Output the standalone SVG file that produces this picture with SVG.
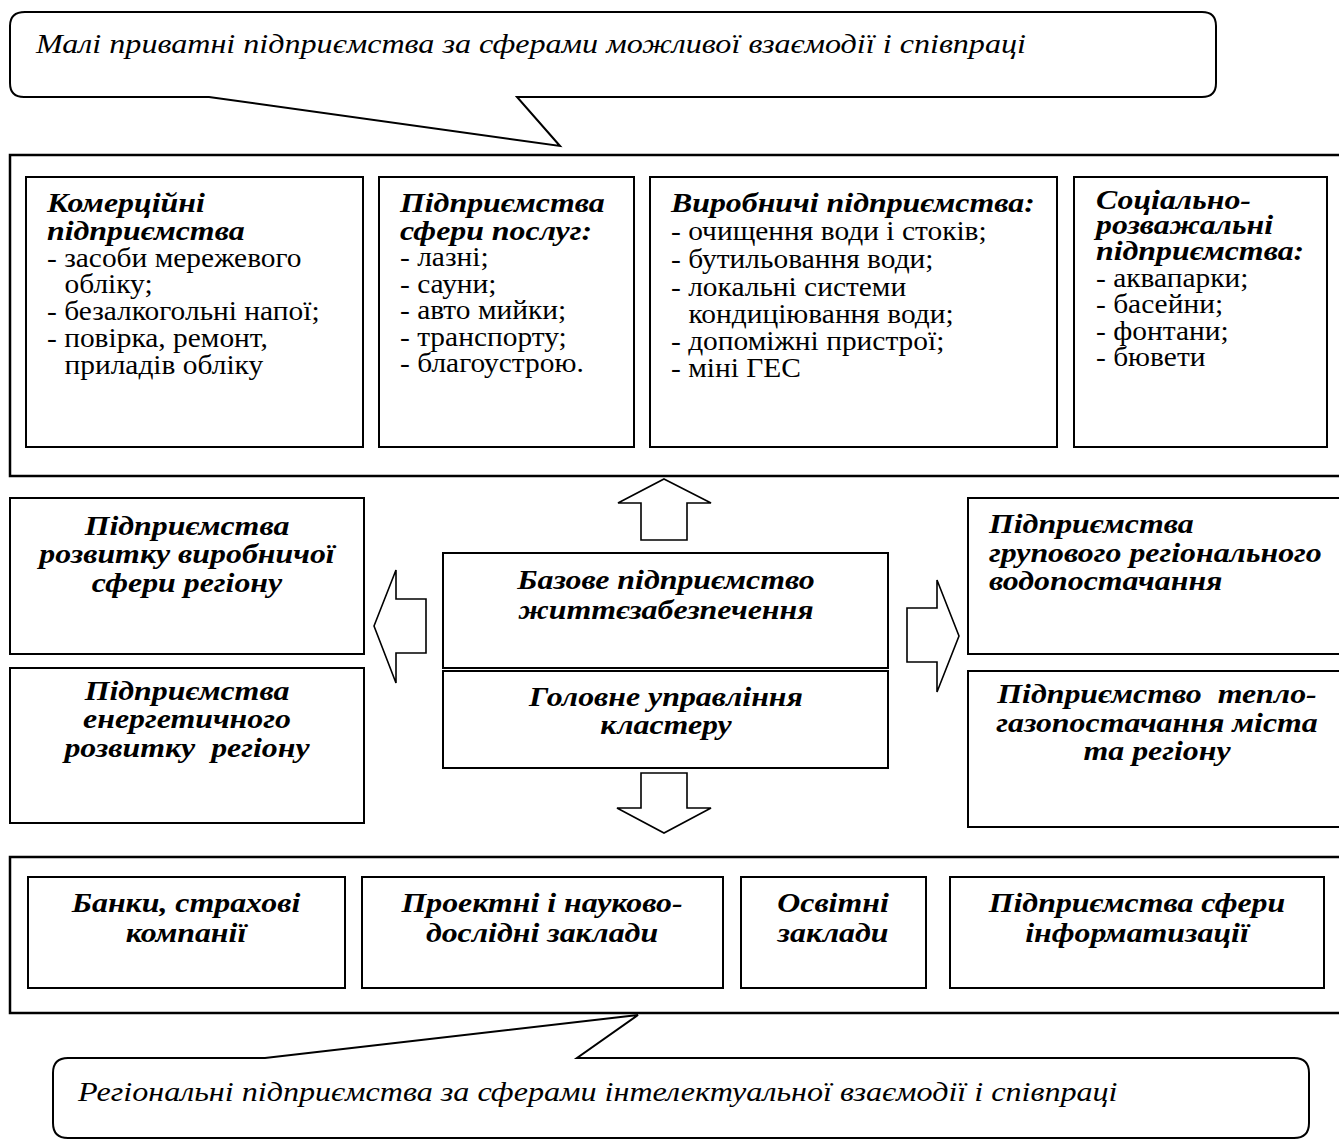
<svg xmlns="http://www.w3.org/2000/svg" width="1339" height="1140" viewBox="0 0 1339 1140">
<style>
.bx{fill:#fff;stroke:#000;stroke-width:2}
.ob{fill:none;stroke:#000;stroke-width:2.5}
.co{fill:#fff;stroke:#000;stroke-width:2}
.ar{fill:#fff;stroke:#000;stroke-width:1.6;stroke-linejoin:miter}
text{font-family:"Liberation Serif","Times New Roman",serif;fill:#000}
.t{font-size:27px}
.h{font-size:27px;font-weight:bold;font-style:italic}
.m{font-size:27px;font-weight:bold;font-style:italic}
.c{text-anchor:middle}
.ci{font-size:27px;font-style:italic}
</style>
<rect width="1339" height="1140" fill="#fff"/>

<g id="callout-top">
<path class="co" d="M25,12 H1202 Q1216,12 1216,26 V83 Q1216,97 1202,97 H517 L560,146 L209,97 H24 Q10,97 10,83 V26 Q10,12 25,12 Z"/>
<g transform="translate(36,0) scale(1.19,1)"><text class="ci" x="0" y="53">Малі приватні підприємства за сферами можливої взаємодії і співпраці</text></g>
</g>

<g id="group-top">
<rect class="ob" x="10" y="155" width="1345" height="321"/>
</g>
<g id="box-commercial">
<rect class="bx" x="26" y="177" width="337" height="270"/>
<g transform="translate(47,0) scale(1.18,1)">
<text class="h" x="0" y="212">Комерційні</text>
<text class="h" x="0" y="240">підприємства</text>
</g>
<g transform="translate(47,0) scale(1.09,1)">
<text class="t" x="0" y="267">- засоби мережевого</text>
<text class="t" x="16" y="293">обліку;</text>
<text class="t" x="0" y="320">- безалкогольні напої;</text>
<text class="t" x="0" y="347">- повірка, ремонт,</text>
<text class="t" x="16" y="374">приладів обліку</text>
</g>
</g>
<g id="box-services">
<rect class="bx" x="379" y="177" width="255" height="270"/>
<g transform="translate(400,0) scale(1.18,1)">
<text class="h" x="0" y="212">Підприємства</text>
<text class="h" x="0" y="240">сфери послуг:</text>
</g>
<g transform="translate(400,0) scale(1.09,1)">
<text class="t" x="0" y="266">- лазні;</text>
<text class="t" x="0" y="293">- сауни;</text>
<text class="t" x="0" y="319">- авто мийки;</text>
<text class="t" x="0" y="346">- транспорту;</text>
<text class="t" x="0" y="372">- благоустрою.</text>
</g>
</g>
<g id="box-production">
<rect class="bx" x="650" y="177" width="407" height="270"/>
<g transform="translate(671,0) scale(1.18,1)">
<text class="h" x="0" y="212">Виробничі підприємства:</text>
</g>
<g transform="translate(671,0) scale(1.09,1)">
<text class="t" x="0" y="240">- очищення води і стоків;</text>
<text class="t" x="0" y="268">- бутильовання води;</text>
<text class="t" x="0" y="296">- локальні системи</text>
<text class="t" x="16" y="323">кондиціювання води;</text>
<text class="t" x="0" y="350">- допоміжні пристрої;</text>
<text class="t" x="0" y="377">- міні ГЕС</text>
</g>
</g>
<g id="box-social">
<rect class="bx" x="1074" y="177" width="253" height="270"/>
<g transform="translate(1096,0) scale(1.18,1)">
<text class="h" x="0" y="209">Соціально-</text>
<text class="h" x="0" y="234">розважальні</text>
<text class="h" x="0" y="260">підприємства:</text>
</g>
<g transform="translate(1096,0) scale(1.09,1)">
<text class="t" x="0" y="287">- аквапарки;</text>
<text class="t" x="0" y="313">- басейни;</text>
<text class="t" x="0" y="340">- фонтани;</text>
<text class="t" x="0" y="366">- бювети</text>
</g>
</g>

<g id="box-prod-region">
<rect class="bx" x="10" y="498" width="354" height="156"/>
<g transform="translate(187,0) scale(1.18,1)">
<text class="m c" x="0" y="535">Підприємства</text>
<text class="m c" x="0" y="563">розвитку виробничої</text>
<text class="m c" x="0" y="592">сфери регіону</text>
</g>
</g>
<g id="box-energy">
<rect class="bx" x="10" y="668" width="354" height="155"/>
<g transform="translate(187,0) scale(1.18,1)">
<text class="m c" x="0" y="700">Підприємства</text>
<text class="m c" x="0" y="728">енергетичного</text>
<text class="m c" x="0" y="757" xml:space="preserve">розвитку  регіону</text>
</g>
</g>
<g id="box-base">
<rect class="bx" x="443" y="553" width="445" height="115"/>
<g transform="translate(666,0) scale(1.18,1)">
<text class="m c" x="0" y="589">Базове підприємство</text>
<text class="m c" x="0" y="619">життєзабезпечення</text>
</g>
</g>
<g id="box-management">
<rect class="bx" x="443" y="671" width="445" height="97"/>
<g transform="translate(666,0) scale(1.18,1)">
<text class="m c" x="0" y="706">Головне управління</text>
<text class="m c" x="0" y="734">кластеру</text>
</g>
</g>
<g id="box-water">
<rect class="bx" x="968" y="498" width="380" height="156"/>
<g transform="translate(989,0) scale(1.18,1)">
<text class="m" x="0" y="533">Підприємства</text>
<text class="m" x="0" y="562">групового регіонального</text>
<text class="m" x="0" y="590">водопостачання</text>
</g>
</g>
<g id="box-heat">
<rect class="bx" x="968" y="671" width="380" height="156"/>
<g transform="translate(1157,0) scale(1.18,1)">
<text class="m c" x="0" y="703" xml:space="preserve">Підприємство  тепло-</text>
<text class="m c" x="0" y="732">газопостачання міста</text>
<text class="m c" x="0" y="760">та регіону</text>
</g>
</g>

<g id="connectors">
<polygon class="ar" points="664,479 711,503 687,503 687,540 641,540 641,503 618,503"/>
<polygon class="ar" points="374,626 396,570 396,599 426,599 426,653 396,653 396,683"/>
<polygon class="ar" points="959,636 937,580 937,608 907,608 907,662 937,662 937,692"/>
<polygon class="ar" points="641,773 687,773 687,808 711,808 664,833 617,808 641,808"/>
</g>

<g id="group-bottom">
<rect class="ob" x="10" y="857" width="1345" height="156"/>
</g>
<g id="box-banks">
<rect class="bx" x="28" y="877" width="317" height="111"/>
<g transform="translate(186,0) scale(1.18,1)">
<text class="m c" x="0" y="912">Банки, страхові</text>
<text class="m c" x="0" y="942">компанії</text>
</g>
</g>
<g id="box-research">
<rect class="bx" x="362" y="877" width="361" height="111"/>
<g transform="translate(542,0) scale(1.18,1)">
<text class="m c" x="0" y="912">Проектні і науково-</text>
<text class="m c" x="0" y="942">дослідні заклади</text>
</g>
</g>
<g id="box-education">
<rect class="bx" x="741" y="877" width="185" height="111"/>
<g transform="translate(833,0) scale(1.18,1)">
<text class="m c" x="0" y="912">Освітні</text>
<text class="m c" x="0" y="942">заклади</text>
</g>
</g>
<g id="box-it">
<rect class="bx" x="950" y="877" width="374" height="111"/>
<g transform="translate(1137,0) scale(1.18,1)">
<text class="m c" x="0" y="912">Підприємства сфери</text>
<text class="m c" x="0" y="942">інформатизації</text>
</g>
</g>

<g id="callout-bottom">
<path class="co" d="M68,1058 H265 L638,1015 L577,1058 H1294 Q1309,1058 1309,1073 V1123 Q1309,1138 1294,1138 H68 Q53,1138 53,1123 V1073 Q53,1058 68,1058 Z"/>
<g transform="translate(78,0) scale(1.19,1)"><text class="ci" x="0" y="1101">Регіональні підприємства за сферами інтелектуальної взаємодії і співпраці</text></g>
</g>
</svg>
